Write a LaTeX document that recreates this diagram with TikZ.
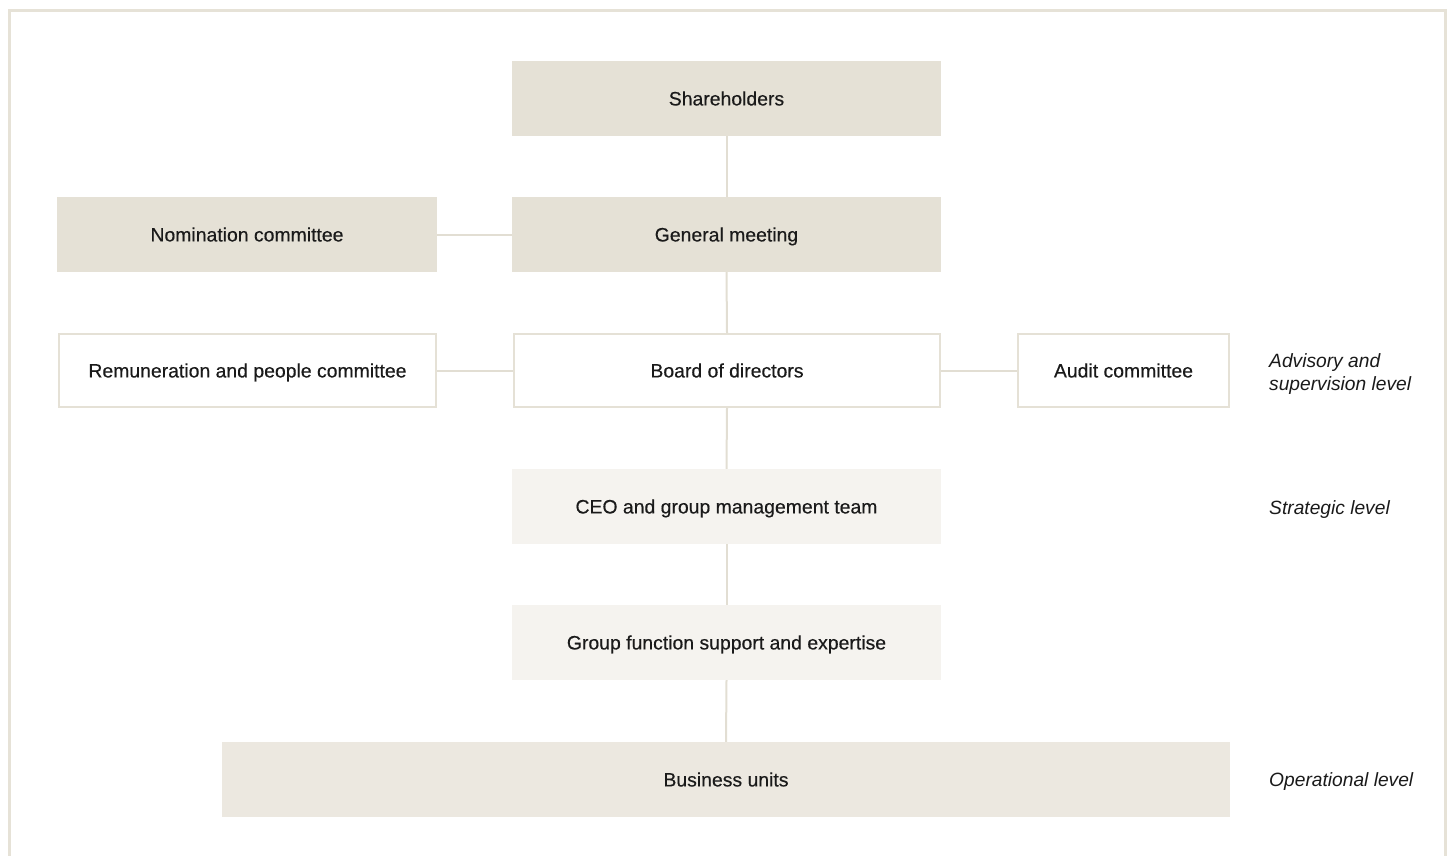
\documentclass[tikz,border=0pt]{standalone}
\usepackage{fontspec}
\setmainfont{Liberation Sans}
\newfontfamily\boxfont[FakeBold=0.4]{Liberation Sans}
\definecolor{frameline}{HTML}{E6E2D7}
\definecolor{linkline}{HTML}{E2DED3}
\definecolor{darkfill}{HTML}{E5E1D6}
\definecolor{midfill}{HTML}{ECE8E0}
\definecolor{lightfill}{HTML}{F5F3EF}
\definecolor{ink}{HTML}{1A1A1A}
\begin{document}
\begin{tikzpicture}[x=1pt,y=-1pt,
  orgbox/.style={rectangle, inner sep=0pt, text=ink,
    text height=13.9pt, text depth=0pt,
    font=\boxfont\fontsize{19.4}{23}\selectfont},
  darkbox/.style={orgbox, fill=darkfill},
  midbox/.style={orgbox, fill=midfill},
  lightbox/.style={orgbox, fill=lightfill},
  outlinebox/.style={orgbox, fill=white, draw=darkfill, line width=2pt},
  link/.style={draw=linkline, line width=2pt},
  levellabel/.style={anchor=west, inner sep=0pt, text=ink, align=left,
    font=\itshape\fontsize{19.2}{22.5}\selectfont}]
\useasboundingbox (0,0) rectangle (1453,856);
% outer frame, open at the bottom
\draw[frameline, line width=3pt] (9,870) -- (9,11) -- (1445,11) -- (1445,870);

% boxes
\node[darkbox, minimum width=429pt, minimum height=75pt] (share) at (726.5,98.5) {Shareholders};
\node[darkbox, minimum width=429pt, minimum height=75pt] (gm) at (726.5,234.5) {General meeting};
\node[darkbox, minimum width=380pt, minimum height=75pt] (nom) at (247,234.5) {Nomination committee};
\node[outlinebox, minimum width=377pt, minimum height=73pt] (rem) at (247.5,370.5) {Remuneration and people committee};
\node[outlinebox, minimum width=426pt, minimum height=73pt] (board) at (727,370.5) {Board of directors};
\node[outlinebox, minimum width=211pt, minimum height=73pt] (audit) at (1123.5,370.5) {Audit committee};
\node[lightbox, minimum width=429pt, minimum height=75pt] (ceo) at (726.5,506.5) {CEO and group management team};
\node[lightbox, minimum width=429pt, minimum height=75pt] (gf) at (726.5,642.5) {Group function support and expertise};
\node[midbox, minimum width=1008pt, minimum height=75pt] (bu) at (726,779.5) {Business units};

% connectors
\draw[link] (share.south) -- (gm.north);
\draw[link] (nom.east) -- (gm.west);
\draw[link] (gm.south) -- (board.north);
\draw[link] (rem.east) -- (board.west);
\draw[link] (board.east) -- (audit.west);
\draw[link] (board.south) -- (ceo.north);
\draw[link] (ceo.south) -- (gf.north);
\draw[link] (gf.south) -- (bu.north);

% level labels
\node[levellabel] (lvadv) at (1269,374) {Advisory and\\supervision level};
\node[levellabel] (lvstr) at (1269,509.5) {Strategic level};
\node[levellabel] (lvop) at (1269,782) {Operational level};
\end{tikzpicture}
\end{document}
